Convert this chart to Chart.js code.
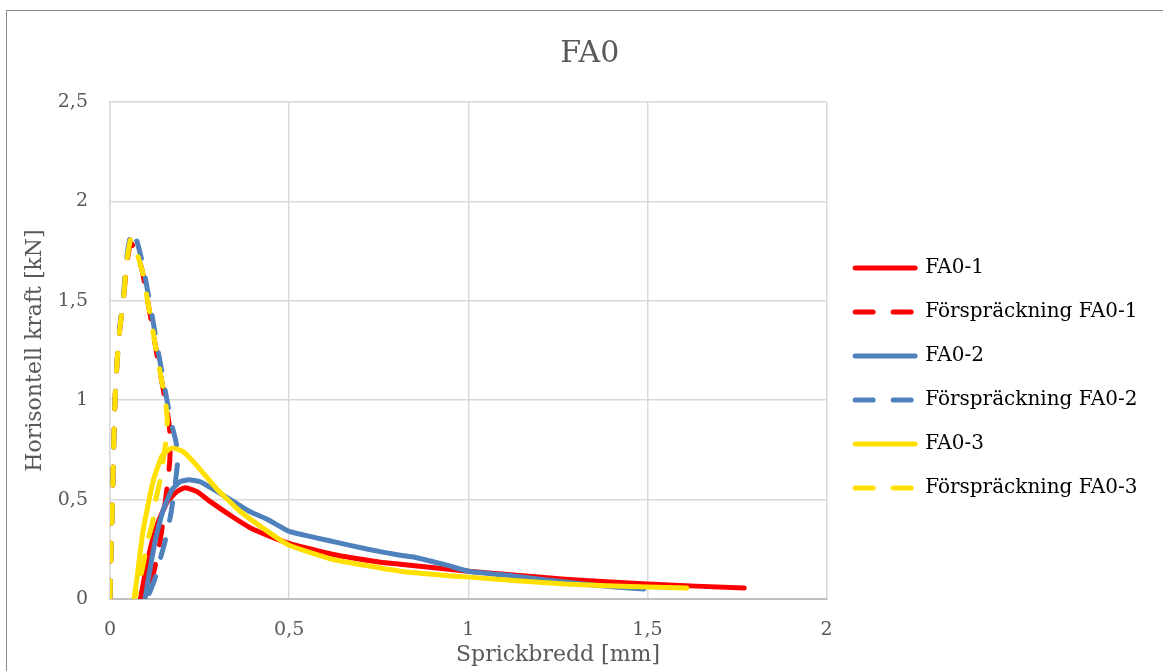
<!DOCTYPE html>
<html>
<head>
<meta charset="utf-8">
<script src="https://cdn.jsdelivr.net/npm/chart.js@4.4.0/dist/chart.umd.min.js"></script>
<style>
  html, body { margin: 0; padding: 0; background: #fff; overflow: hidden; }
  #frame { position: absolute; left: 6px; top: 10px; width: 1200px; height: 700px; border: 1px solid #8a8a8a; }
  #chart { position: absolute; left: 0; top: 0; }
</style>
</head>
<body>
<div id="frame"></div>
<canvas id="chart" width="1163" height="671"></canvas>
<script>
// texter
const TITLE = "FA0"
const X_TITLE = "Sprickbredd [mm]"
const Y_TITLE = "Horisontell kraft [kN]"
const seriesNames = ["FA0-1", "Förspräckning FA0-1", "FA0-2", "Förspräckning FA0-2", "FA0-3", "Förspräckning FA0-3"]
const seriesColors = ["#ff0000", "#ff0000", "#4f81bd", "#4f81bd", "#ffe000", "#ffe000"]

// axlar
const xTicks = [0, 0.5, 1, 1.5, 2]
const yTicks = [0, 0.5, 1, 1.5, 2, 2.5]

// FA0-1
const fa01X = [0.085, 0.095, 0.112, 0.135, 0.16, 0.187, 0.21, 0.243, 0.28, 0.345, 0.39, 0.44, 0.5, 0.62, 0.755, 0.81, 1.0, 1.27, 1.5, 1.77]
const fa01Y = [0, 0.1, 0.25, 0.39, 0.49, 0.54, 0.56, 0.54, 0.49, 0.41, 0.36, 0.32, 0.28, 0.225, 0.185, 0.175, 0.14, 0.1, 0.075, 0.055]
const pre01X = [0, 0.003, 0.007, 0.01, 0.014, 0.02, 0.028, 0.037, 0.047, 0.058, 0.075, 0.09, 0.103, 0.115, 0.128, 0.142, 0.155, 0.165, 0.168, 0.167, 0.162, 0.155, 0.147, 0.138, 0.12, 0.1, 0.087]
const pre01Y = [0, 0.25, 0.5, 0.75, 1.0, 1.2, 1.37, 1.5, 1.69, 1.79, 1.74, 1.65, 1.52, 1.4, 1.26, 1.12, 0.99, 0.88, 0.8, 0.7, 0.6, 0.5, 0.38, 0.27, 0.12, 0.03, 0]

// FA0-2
const fa02X = [0.098, 0.105, 0.126, 0.149, 0.173, 0.196, 0.22, 0.252, 0.29, 0.345, 0.39, 0.44, 0.5, 0.62, 0.72, 0.81, 0.85, 0.94, 1.0, 1.13, 1.27, 1.41, 1.49]
const fa02Y = [0, 0.08, 0.29, 0.45, 0.55, 0.59, 0.6, 0.59, 0.55, 0.49, 0.44, 0.4, 0.34, 0.29, 0.25, 0.22, 0.21, 0.17, 0.14, 0.115, 0.085, 0.06, 0.05]
const pre02X = [0, 0.003, 0.007, 0.01, 0.014, 0.02, 0.028, 0.037, 0.047, 0.06, 0.075, 0.092, 0.105, 0.118, 0.132, 0.146, 0.16, 0.172, 0.183, 0.19, 0.182, 0.17, 0.155, 0.14, 0.125, 0.11, 0.103]
const pre02Y = [0, 0.25, 0.5, 0.75, 1.0, 1.2, 1.38, 1.52, 1.72, 1.85, 1.8, 1.68, 1.55, 1.42, 1.27, 1.13, 0.99, 0.88, 0.8, 0.72, 0.58, 0.43, 0.3, 0.2, 0.1, 0.03, 0]

// FA0-3
const fa03X = [0.067, 0.075, 0.092, 0.12, 0.145, 0.173, 0.205, 0.243, 0.3, 0.364, 0.44, 0.5, 0.62, 0.81, 1.0, 1.27, 1.5, 1.61]
const fa03Y = [0, 0.1, 0.34, 0.59, 0.72, 0.76, 0.74, 0.67, 0.55, 0.44, 0.34, 0.27, 0.2, 0.14, 0.11, 0.075, 0.06, 0.055]
const pre03X = [0, 0.003, 0.007, 0.01, 0.014, 0.02, 0.028, 0.037, 0.047, 0.058, 0.075, 0.09, 0.103, 0.115, 0.128, 0.142, 0.155, 0.16, 0.155, 0.14, 0.128, 0.118, 0.106, 0.09, 0.075, 0.068]
const pre03Y = [0, 0.25, 0.5, 0.75, 1.0, 1.2, 1.37, 1.5, 1.7, 1.81, 1.74, 1.65, 1.52, 1.4, 1.26, 1.12, 0.99, 0.9, 0.78, 0.6, 0.5, 0.38, 0.3, 0.15, 0.04, 0]

const FONT = "'DejaVu Serif', serif"
const GREY = "#595959"

const pts = (xs, ys) => xs.map((x, i) => ({ x, y: ys[i] }))
const fmt = v => String(v).replace(".", ",")

const seriesData = [pts(fa01X, fa01Y), pts(pre01X, pre01Y), pts(fa02X, fa02Y), pts(pre02X, pre02Y), pts(fa03X, fa03Y), pts(pre03X, pre03Y)]

const datasets = seriesData.map((data, i) => ({
    label: seriesNames[i],
    data,
    showLine: true,
    borderColor: seriesColors[i],
    backgroundColor: seriesColors[i],
    borderWidth: 5,
    borderCapStyle: "round",
    borderJoinStyle: "round",
    borderDash: i % 2 === 1 ? [18, 20] : [],
    pointRadius: 0,
    tension: 0.15,
    order: 5 - i   // sista serien överst, som i Excel
}))

// x-axelns titel ligger förskjuten i originalet
const xTitlePlugin = {
    id: "xTitle",
    afterDraw(chart) {
        const ctx = chart.ctx
        ctx.save()
        ctx.font = "22px " + FONT
        ctx.fillStyle = GREY
        ctx.textAlign = "center"
        ctx.textBaseline = "middle"
        ctx.fillText(X_TITLE, 558, 655)
        ctx.restore()
    }
}

new Chart(document.getElementById("chart"), {
    type: "scatter",
    data: { datasets },
    plugins: [xTitlePlugin],
    options: {
        responsive: false,
        animation: false,
        devicePixelRatio: 1,
        layout: { padding: { top: 12, left: 32, right: 15.5, bottom: 0 } },
        plugins: {
            title: {
                display: true,
                text: TITLE,
                color: GREY,
                font: { family: FONT, size: 30, weight: "normal" },
                padding: { top: 24, bottom: 30 }
            },
            legend: {
                position: "right",
                maxWidth: 400,
                title: { display: true, text: " ", font: { size: 10 }, padding: { top: 30.5, bottom: 30.5 } },
                labels: {
                    usePointStyle: true,
                    pointStyle: "line",
                    pointStyleWidth: 60,
                    color: "#000",
                    font: { family: FONT, size: 20 },
                    padding: 24,
                    sort: (a, b) => a.datasetIndex - b.datasetIndex,
                    generateLabels: chart => Chart.defaults.plugins.legend.labels.generateLabels(chart).map(item => {
                        const ds = chart.data.datasets[item.datasetIndex]
                        item.lineDash = ds.borderDash
                        item.lineCap = "round"
                        item.lineWidth = 5
                        return item
                    })
                }
            },
            tooltip: { enabled: false }
        },
        scales: {
            x: {
                type: "linear",
                min: 0,
                max: 2,
                afterBuildTicks: s => { s.ticks = xTicks.map(v => ({ value: v })) },
                afterFit: s => { s.height = 72 },
                ticks: { padding: 20, color: GREY, font: { family: FONT, size: 19 }, callback: fmt },
                grid: { color: "#d9d9d9", lineWidth: 1.5, drawTicks: false },
                border: { color: "#bfbfbf", width: 2 }
            },
            y: {
                min: 0,
                max: 2.5,
                afterBuildTicks: s => { s.ticks = yTicks.map(v => ({ value: v })) },
                afterFit: s => { s.width = 78 },
                ticks: { padding: 22, color: GREY, font: { family: FONT, size: 19 }, callback: fmt },
                grid: { color: "#d9d9d9", lineWidth: 1.5, drawTicks: false },
                border: { color: "#d9d9d9", width: 1.5 },
                title: { display: true, text: Y_TITLE, color: GREY, font: { family: FONT, size: 22 }, padding: { top: -10, bottom: 0 } }
            },
            y2: {
                position: "right",
                grid: { display: false, drawTicks: false },
                ticks: { display: false },
                border: { display: false },
                afterFit: s => { s.width = 4.5 }
            }
        }
    }
})
</script>
</body>
</html>
